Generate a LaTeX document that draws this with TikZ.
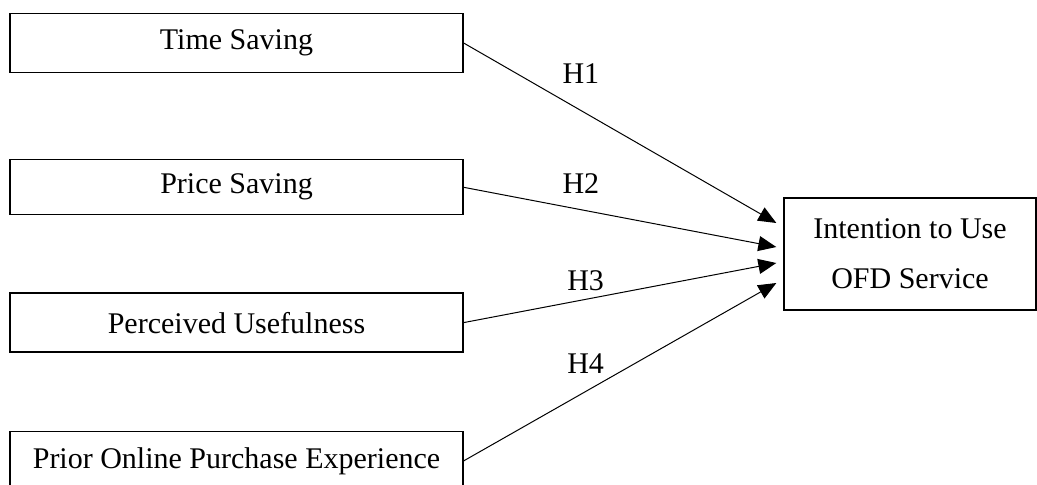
\documentclass[tikz,border=0pt]{standalone}
\usepackage{fontspec}
\setmainfont{Liberation Serif}
\usepackage{tikz}
\usetikzlibrary{shapes,arrows,arrows.meta,positioning}

\begin{document}
\begin{tikzpicture}[
    x=1pt, y=-1pt,
    node distance=78pt,
    font=\fontsize{30}{50}\selectfont,
    box/.style={rectangle, draw, line width=1.3pt, minimum width=453pt, minimum height=59pt, align=center},
    arrow/.style={-{Triangle[length=18pt,width=15pt]}, line width=1pt}
]
    \useasboundingbox (0,0) rectangle (1037,485);

    \node[box] (time) at (236.5,43) {Time Saving};
    \node[box, minimum height=55pt, below=86pt of time] (price) {Price Saving};
    \node[box, below=77pt of price] (useful) {Perceived Usefulness};
    \node[box, below=of useful] (prior) {Prior Online Purchase Experience};
    \node[box, minimum width=252pt, minimum height=112pt] (ofd) at (910,254) {Intention to Use\\OFD Service};

    \draw[arrow] (time.east) -- node[pos=.375, above=23pt] (h1) {H1} ([xshift=-7pt,yshift=31pt]ofd.west);
    \draw[arrow] (price.east) -- node[pos=.375, above=12pt] (h2) {H2} ([xshift=-7pt,yshift=7pt]ofd.west);
    \draw[arrow] (useful.east) -- node[pos=.39, above=5pt] (h3) {H3} ([xshift=-7pt,yshift=-9pt]ofd.west);
    \draw[arrow] (prior.east) -- node[pos=.39, above=14pt] (h4) {H4} ([xshift=-7pt,yshift=-29pt]ofd.west);
\end{tikzpicture}
\end{document}
